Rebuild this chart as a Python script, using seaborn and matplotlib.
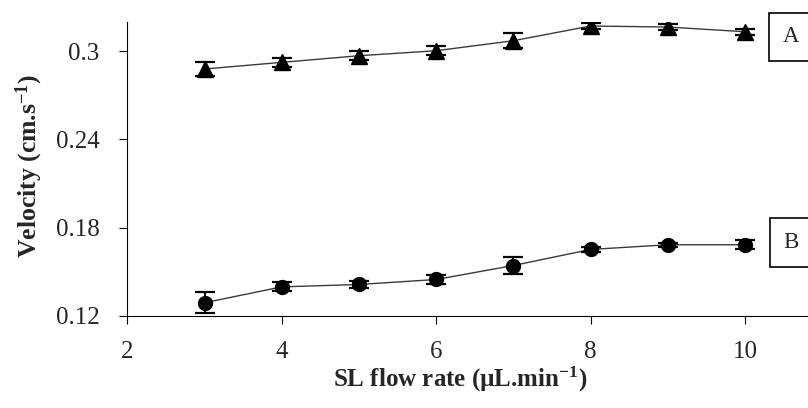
import numpy as np
import pandas as pd
import seaborn as sns
import matplotlib.pyplot as plt

# data
flow_rate = [3, 4, 5, 6, 7, 8, 9, 10]
velocity_a = [0.2878, 0.2923, 0.2968, 0.3002, 0.3070, 0.3170, 0.3163, 0.3131]
error_a = [0.005, 0.003, 0.003, 0.003, 0.005, 0.002, 0.002, 0.002]
velocity_b = [0.1290, 0.1398, 0.1414, 0.1448, 0.1543, 0.1652, 0.1684, 0.1684]
error_b = [0.0073, 0.003, 0.0025, 0.003, 0.0057, 0.002, 0.0015, 0.003]
x_ticks = [2, 4, 6, 8, 10]
y_ticks = [0.12, 0.18, 0.24, 0.30]
y_tick_labels = ['0.12', '0.18', '0.24', '0.3']

df = pd.DataFrame({'flow': flow_rate, 'A': velocity_a, 'B': velocity_b})

sns.set_style('ticks')
plt.rcParams['font.family'] = ['Liberation Serif', 'DejaVu Serif']
plt.rcParams['mathtext.fontset'] = 'custom'
plt.rcParams['mathtext.rm'] = 'Liberation Serif:bold'
plt.rcParams['mathtext.default'] = 'rm'

fig = plt.figure(figsize=(8.08, 4.08), dpi=100)
ax = fig.add_axes([0.1576, 0.2255, 0.860, 0.7216])

# series A (triangles) and B (circles)
for col, err, mk, ms in [('A', error_a, '^', 11), ('B', error_b, 'o', 10)]:
    sns.lineplot(data=df, x='flow', y=col, ax=ax, color='#3a3a3a', linewidth=1.0)
    ax.errorbar(df['flow'], df[col], yerr=err, fmt='none', ecolor='black',
                elinewidth=1.4, capsize=7, capthick=1.6)
    ax.plot(df['flow'], df[col], linestyle='none', marker=mk, markersize=ms,
            color='black')

ax.set_xlim(2, 11)
ax.set_ylim(0.12, 0.32)
ax.set_xticks(x_ticks)
ax.set_xticklabels([str(t) for t in x_ticks])
ax.set_yticks(y_ticks)
ax.set_yticklabels(y_tick_labels)
ax.tick_params(axis='both', labelsize=18, length=6, width=0.8, color='black',
               direction='out')
ax.tick_params(axis='x', pad=12)
ax.tick_params(axis='y', pad=14)

sns.despine(ax=ax)
for s in ['left', 'bottom']:
    ax.spines[s].set_linewidth(0.8)
    ax.spines[s].set_color('black')

ax.set_xlabel('SL flow rate (µL.min$^{-1}$)', fontsize=18, fontweight='bold')
ax.set_ylabel('Velocity (cm.s$^{-1}$)', fontsize=18.5, fontweight='bold')
ax.xaxis.set_label_coords(0.479, -0.166)
ax.yaxis.set_label_coords(-0.119, 0.51)

# boxed series labels
box = dict(boxstyle='square,pad=0.6', facecolor='white', edgecolor='black',
           linewidth=1.2)
ax.text(10.6, 0.3096, 'A', fontsize=16.5, ha='center', va='center', bbox=box)
ax.text(10.6, 0.1699, 'B', fontsize=16.5, ha='center', va='center', bbox=box)

fig.savefig('out.png', dpi=100)
